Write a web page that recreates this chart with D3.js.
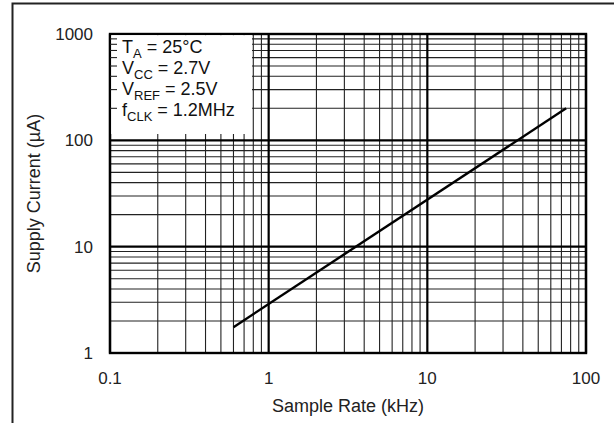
<!DOCTYPE html>
<html>
<head>
<meta charset="utf-8">
<script src="https://cdn.jsdelivr.net/npm/d3@7"></script>
<style>
  body { margin: 0; background: #fff; }
  svg { display: block; font-family: "Liberation Sans", Arial, sans-serif; }
</style>
</head>
<body>
<svg id="chart" width="614" height="423"></svg>
<script>
/* Supply current vs sample rate — log/log */

const sampleRate = [0.6, 75];          // kHz
const supplyCurrent = [1.75, 200];     // µA
const xTicks = [0.1, 1, 10, 100];
const yTicks = [1, 10, 100, 1000];
const xTickLabels = ['0.1', '1', '10', '100'];
const yTickLabels = ['1', '10', '100', '1000'];
const conditions = [
  ['T', 'A', ' = 25°C'],
  ['V', 'CC', ' = 2.7V'],
  ['V', 'REF', ' = 2.5V'],
  ['f', 'CLK', ' = 1.2MHz'],
];

const margin = { left: 110, top: 34, right: 28, bottom: 70 };
const width = 614, height = 423;
const svg = d3.select('#chart');

// outer frame (only left/top edges fall inside the picture)
svg.append('rect')
  .attr('x', 12.5).attr('y', 3.5).attr('width', 640).attr('height', 450)
  .attr('fill', 'none').attr('stroke', '#222').attr('stroke-width', 2);

const x = d3.scaleLog().domain([0.1, 100]).range([margin.left, width - margin.right]);
const y = d3.scaleLog().domain([1, 1000]).range([height - margin.bottom, margin.top]);

// minor positions: 2..9 in each decade
const minors = (lo, hi) => {
  const out = [];
  for (let d = lo; d < hi; d *= 10) for (let k = 2; k <= 9; k++) out.push(d * k);
  return out;
};
const xMinor = minors(0.1, 100);
const yMinor = minors(1, 1000);

const grid = svg.append('g');
grid.selectAll('.vx').data(xMinor).join('line')
  .attr('x1', d => x(d)).attr('x2', d => x(d))
  .attr('y1', y(1)).attr('y2', y(1000))
  .attr('stroke', '#222').attr('stroke-width', 1.1);
grid.selectAll('.hy').data(yMinor).join('line')
  .attr('y1', d => y(d)).attr('y2', d => y(d))
  .attr('x1', x(0.1)).attr('x2', x(100))
  .attr('stroke', '#222').attr('stroke-width', 1.1);

// major decade lines
grid.append('g').selectAll('line').data(xTicks).join('line')
  .attr('x1', d => x(d)).attr('x2', d => x(d))
  .attr('y1', y(1)).attr('y2', y(1000))
  .attr('stroke', '#000').attr('stroke-width', 2.2);
grid.append('g').selectAll('line').data(yTicks).join('line')
  .attr('y1', d => y(d)).attr('y2', d => y(d))
  .attr('x1', x(0.1)).attr('x2', x(100))
  .attr('stroke', '#000').attr('stroke-width', 2.2);

// plot frame
svg.append('rect')
  .attr('x', x(0.1)).attr('y', y(1000))
  .attr('width', x(100) - x(0.1)).attr('height', y(1) - y(1000))
  .attr('fill', 'none').attr('stroke', '#000').attr('stroke-width', 2.4);

// conditions box covers the grid (not the frame)
const box = { x0: x(0.1) + 1.2, y0: y(1000) + 1.2, x1: 252, y1: 134 };
svg.append('rect')
  .attr('x', box.x0).attr('y', box.y0)
  .attr('width', box.x1 - box.x0).attr('height', box.y1 - box.y0)
  .attr('fill', '#fff');

// short ticks on left edge inside the box
svg.append('g').selectAll('line').data(yMinor.filter(d => y(d) < box.y1)).join('line')
  .attr('x1', x(0.1)).attr('x2', x(0.1) + 7)
  .attr('y1', d => y(d)).attr('y2', d => y(d))
  .attr('stroke', '#222').attr('stroke-width', 1.1);

// data line
const line = d3.line().x(d => x(d[0])).y(d => y(d[1]));
svg.append('path')
  .datum(d3.zip(sampleRate, supplyCurrent))
  .attr('d', line)
  .attr('fill', 'none').attr('stroke', '#000').attr('stroke-width', 2.4);

// tick labels
svg.append('g').selectAll('text').data(xTicks).join('text')
  .attr('x', d => x(d)).attr('y', y(1) + 31)
  .attr('text-anchor', 'middle').attr('font-size', 17).attr('fill', '#222')
  .text((d, i) => xTickLabels[i]);
svg.append('g').selectAll('text').data(yTicks).join('text')
  .attr('x', 93).attr('y', d => y(d) + 6)
  .attr('text-anchor', 'end').attr('font-size', 17).attr('fill', '#222')
  .text((d, i) => yTickLabels[i]);

// axis titles
svg.append('text')
  .attr('x', (x(0.1) + x(100)) / 2).attr('y', 412)
  .attr('text-anchor', 'middle').attr('font-size', 18).attr('fill', '#222')
  .text('Sample Rate (kHz)');
svg.append('text')
  .attr('transform', `translate(40,${(y(1) + y(1000)) / 2}) rotate(-90)`)
  .attr('text-anchor', 'middle').attr('font-size', 18).attr('fill', '#222')
  .text('Supply Current (µA)');

// conditions text
const cond = svg.append('g').attr('font-size', 18).attr('fill', '#111');
conditions.forEach((c, i) => {
  const t = cond.append('text').attr('x', 122).attr('y', 53 + i * 21);
  t.append('tspan').text(c[0]);
  t.append('tspan').attr('dy', 5).attr('font-size', 13).text(c[1]);
  t.append('tspan').attr('dy', -5).text(c[2]);
});
</script>
</body>
</html>
